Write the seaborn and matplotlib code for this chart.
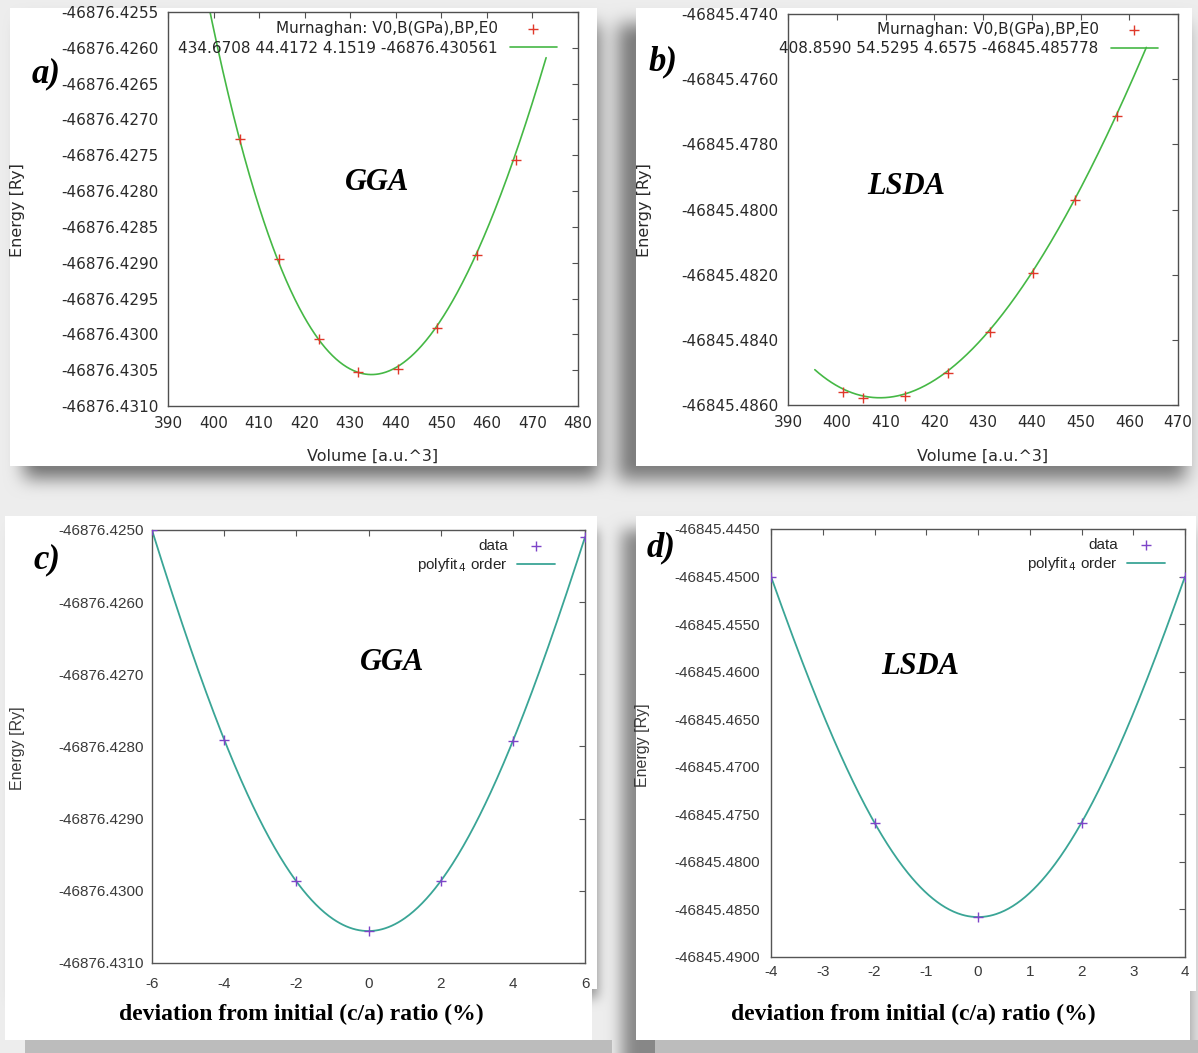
import numpy as np
import matplotlib
matplotlib.use("Agg")
import matplotlib.pyplot as plt
from matplotlib.patches import Rectangle
import seaborn as sns

# ---------------- data ----------------
# (a) GGA : energy vs. volume
gga_volume = [405.7, 414.4, 423.1, 431.7, 440.5, 449.0, 457.8, 466.3]
gga_energy = [-46876.42727, -46876.42895, -46876.43006, -46876.43053,
              -46876.43048, -46876.42991, -46876.42889, -46876.42757]
gga_V0, gga_B, gga_BP, gga_E0 = 434.6708, 44.4172, 4.1519, -46876.430561

# (b) LSDA : energy vs. volume
lsda_volume = [401.2, 405.4, 414.0, 422.9, 431.4, 440.2, 448.8, 457.5]
lsda_energy = [-46845.48559, -46845.48579, -46845.48572, -46845.48501,
               -46845.48375, -46845.48194, -46845.47971, -46845.47713]
lsda_V0, lsda_B, lsda_BP, lsda_E0 = 408.8590, 54.5295, 4.6575, -46845.485778

# (c) GGA : energy vs. c/a deviation
gga_dev = [-6, -4, -2, 0, 2, 4, 6]
gga_ca_energy = [-46876.42500, -46876.42791, -46876.42986, -46876.43056,
                 -46876.42987, -46876.42792, -46876.42510]

# (d) LSDA : energy vs. c/a deviation
lsda_dev = [-4, -2, 0, 2, 4]
lsda_ca_energy = [-46845.45000, -46845.47588, -46845.48580, -46845.47588,
                  -46845.45000]

# tick values
a_xticks = [390, 400, 410, 420, 430, 440, 450, 460, 470, 480]
a_yticks = [-46876.4310, -46876.4305, -46876.4300, -46876.4295, -46876.4290,
            -46876.4285, -46876.4280, -46876.4275, -46876.4270, -46876.4265,
            -46876.4260, -46876.4255]
b_xticks = [390, 400, 410, 420, 430, 440, 450, 460, 470]
b_yticks = [-46845.4860, -46845.4840, -46845.4820, -46845.4800, -46845.4780,
            -46845.4760, -46845.4740]
c_xticks = [-6, -4, -2, 0, 2, 4, 6]
c_yticks = [-46876.4310, -46876.4300, -46876.4290, -46876.4280, -46876.4270,
            -46876.4260, -46876.4250]
d_xticks = [-4, -3, -2, -1, 0, 1, 2, 3, 4]
d_yticks = [-46845.4900, -46845.4850, -46845.4800, -46845.4750, -46845.4700,
            -46845.4650, -46845.4600, -46845.4550, -46845.4500, -46845.4450]

RY_BOHR3_IN_GPA = 14710.507848


def murnaghan(V, V0, B, BP, E0):
    b = B / RY_BOHR3_IN_GPA
    return E0 + b * V / BP * ((V0 / V) ** BP / (BP - 1) + 1) - b * V0 / (BP - 1)


# ---------------- figure ----------------
W, H = 1198, 1053
sns.set_style("white")
plt.rcParams["font.family"] = ["DejaVu Sans"]
fig = plt.figure(figsize=(W / 100, H / 100), dpi=100)


def blur(a, r):
    for axis in (0, 1):
        a = np.moveaxis(a, axis, -1)
        p = np.pad(a, [(0, 0)] * (a.ndim - 1) + [(r + 1, r)], mode="edge")
        c = np.cumsum(p, axis=-1)
        a = (c[..., 2 * r + 1:] - c[..., :-(2 * r + 1)]) / (2 * r + 1)
        a = np.moveaxis(a, -1, axis)
    return a


# page backdrop: grey paper, soft drop shadows, white cards
shade = np.zeros((H, W))
for (x0, y0, x1, y1, r, s) in [
        (24, 24, 599, 478, 8, 0.50),
        (618, 24, 1186, 480, 8, 0.45),
        (14, 530, 598, 998, 5, 0.35),
        (622, 530, 1190, 1053, 7, 0.40)]:
    m = np.zeros((H, W))
    m[y0:y1, x0:x1] = 1.0
    for _ in range(3):
        m = blur(m, r)
    shade += s * m
page = np.clip(0.93 - shade, 0.5, 1.0)
page[1040:1053, 25:612] = 0.74
page[1040:1053, 655:1198] = 0.74
for (x0, y0, x1, y1) in [(10, 8, 597, 466), (636, 8, 1192, 466),
                         (5, 516, 597, 989), (636, 516, 1196, 991)]:
    page[y0:y1, x0:x1] = 1.0
fig.figimage(np.dstack([page] * 3), zorder=-10, origin="upper")


def px_axes(left, top, right, bottom):
    return fig.add_axes([left / W, 1 - bottom / H, (right - left) / W,
                         (bottom - top) / H])


def style_axes(ax, xticks, yticks, xlim, ylim, tick_size, tick_color,
               family, xpad, ypad, spine_color):
    ax.set_facecolor("none")
    ax.set_xlim(*xlim)
    ax.set_ylim(*ylim)
    ax.set_xticks(xticks)
    ax.set_yticks(yticks)
    ax.set_xticklabels([f"{v:g}" for v in xticks])
    ax.set_yticklabels([f"{v:.4f}" for v in yticks])
    ax.tick_params(direction="in", length=4.5, width=0.8, top=True,
                   right=True, labelsize=tick_size, labelcolor=tick_color,
                   color=spine_color)
    ax.tick_params(axis="x", pad=xpad)
    ax.tick_params(axis="y", pad=ypad)
    for lab in ax.get_xticklabels() + ax.get_yticklabels():
        lab.set_family(family)
    for sp in ax.spines.values():
        sp.set_visible(True)
        sp.set_color(spine_color)
        sp.set_linewidth(1.0)
    ax.set_xlabel("")
    ax.set_ylabel("")


def px_text(x, y, s, **kw):
    return fig.text(x / W, 1 - y / H, s, ha="center", va="center", **kw)


red = "#e0382a"
green = "#45b845"
purple = "#7d44c8"
teal = "#3aa596"

# ---- (a) ----
ax = px_axes(168, 12, 578, 406)
v = np.linspace(395.0, 473.0, 400)
fit_a = f"{gga_V0:.4f} {gga_B:.4f} {gga_BP:.4f} {gga_E0:.6f}"
sns.lineplot(x=v, y=murnaghan(v, gga_V0, gga_B, gga_BP, gga_E0), ax=ax,
             color=green, lw=1.2, label=fit_a, zorder=2)
sns.scatterplot(x=gga_volume, y=gga_energy, ax=ax, marker="+", s=45,
                color=red, linewidth=1.0, label="Murnaghan: V0,B(GPa),BP,E0",
                zorder=3)
style_axes(ax, a_xticks, a_yticks, (390, 480), (-46876.4310, -46876.4255),
           11, "#2a2a2a", "DejaVu Sans", 7, 7, "#505050")
h, l = ax.get_legend_handles_labels()
order = [l.index("Murnaghan: V0,B(GPa),BP,E0"), l.index(fit_a)]
ax.legend([h[i] for i in order], [l[i] for i in order], loc="upper right",
          bbox_to_anchor=(0.949, 0.977), markerfirst=False, frameon=False,
          fontsize=11, handlelength=3.1, handletextpad=0.8, labelspacing=0.3,
          borderpad=0, borderaxespad=0)

# ---- (b) ----
ax = px_axes(788, 14, 1178, 405)
v = np.linspace(395.5, 463.5, 400)
fit_b = f"{lsda_V0:.4f} {lsda_B:.4f} {lsda_BP:.4f} {lsda_E0:.6f}"
sns.lineplot(x=v, y=murnaghan(v, lsda_V0, lsda_B, lsda_BP, lsda_E0), ax=ax,
             color=green, lw=1.2, label=fit_b, zorder=2)
sns.scatterplot(x=lsda_volume, y=lsda_energy, ax=ax, marker="+", s=45,
                color=red, linewidth=1.0, label="Murnaghan: V0,B(GPa),BP,E0",
                zorder=3)
style_axes(ax, b_xticks, b_yticks, (390, 470), (-46845.4860, -46845.4740),
           11, "#2a2a2a", "DejaVu Sans", 7, 7, "#505050")
h, l = ax.get_legend_handles_labels()
order = [l.index("Murnaghan: V0,B(GPa),BP,E0"), l.index(fit_b)]
ax.legend([h[i] for i in order], [l[i] for i in order], loc="upper right",
          bbox_to_anchor=(0.949, 0.98), markerfirst=False, frameon=False,
          fontsize=11, handlelength=3.1, handletextpad=0.8, labelspacing=0.3,
          borderpad=0, borderaxespad=0)

# ---- (c) ----
poly_label = r"polyfit$_{\,4}$ order"
ax = px_axes(152, 530, 585, 963)
e_ref = gga_ca_energy[3]
coef = np.polyfit(gga_dev, np.array(gga_ca_energy) - e_ref, 4)
x = np.linspace(-6, 6, 400)
sns.lineplot(x=x, y=np.polyval(coef, x) + e_ref, ax=ax, color=teal, lw=1.3,
             label=poly_label, zorder=2)
sns.scatterplot(x=gga_dev, y=gga_ca_energy, ax=ax, marker="+", s=50,
                color=purple, linewidth=1.0, label="data", zorder=3)
style_axes(ax, c_xticks, c_yticks, (-6, 6), (-46876.4310, -46876.4250),
           11, "#3a3a3a", "Liberation Sans", 10, 6, "#555555")
h, l = ax.get_legend_handles_labels()
order = [l.index("data"), l.index(poly_label)]
ax.legend([h[i] for i in order], [l[i] for i in order], loc="upper right",
          bbox_to_anchor=(0.931, 0.98), markerfirst=False, frameon=False,
          prop={"family": "Liberation Sans", "size": 11}, handlelength=2.5,
          handletextpad=0.6, labelspacing=0.25, borderpad=0, borderaxespad=0)

# ---- (d) ----
ax = px_axes(771, 529, 1185, 957)
e_ref = lsda_ca_energy[2]
coef = np.polyfit(lsda_dev, np.array(lsda_ca_energy) - e_ref, 4)
x = np.linspace(-4, 4, 400)
sns.lineplot(x=x, y=np.polyval(coef, x) + e_ref, ax=ax, color=teal, lw=1.3,
             label=poly_label, zorder=2)
sns.scatterplot(x=lsda_dev, y=lsda_ca_energy, ax=ax, marker="+", s=50,
                color=purple, linewidth=1.0, label="data", zorder=3)
style_axes(ax, d_xticks, d_yticks, (-4, 4), (-46845.4900, -46845.4450),
           11, "#3a3a3a", "Liberation Sans", 6, 8, "#555555")
h, l = ax.get_legend_handles_labels()
order = [l.index("data"), l.index(poly_label)]
ax.legend([h[i] for i in order], [l[i] for i in order], loc="upper right",
          bbox_to_anchor=(0.952, 0.98), markerfirst=False, frameon=False,
          prop={"family": "Liberation Sans", "size": 11}, handlelength=2.5,
          handletextpad=0.6, labelspacing=0.25, borderpad=0, borderaxespad=0)

# ---- axis titles ----
for (xp, yp) in [(18, 210), (645, 210)]:
    px_text(xp, yp, "Energy [Ry]", rotation=90, fontsize=11.5,
            color="#2a2a2a", family="DejaVu Sans")
for (xp, yp) in [(18, 748), (643, 745)]:
    px_text(xp, yp, "Energy [Ry]", rotation=90, fontsize=11.5,
            color="#3a3a3a", family="Liberation Sans")
for (xp, yp) in [(373, 456), (983, 456)]:
    px_text(xp, yp, "Volume [a.u.^3]", fontsize=11.5, color="#2a2a2a",
            family="DejaVu Sans")

# white caption strips under the c/a panels
for (x0, y0, x1, y1) in [(5, 989, 592, 1040), (636, 991, 1190, 1040)]:
    fig.add_artist(Rectangle((x0 / W, 1 - y1 / H), (x1 - x0) / W,
                             (y1 - y0) / H, transform=fig.transFigure,
                             facecolor="white", edgecolor="none", zorder=5))
for xp in (301, 913):
    t = px_text(xp, 1014, "deviation from initial (c/a) ratio (%)",
                fontsize=17, fontweight="bold", family="Liberation Serif",
                color="black")
    t.set_zorder(6)

# panel tags and method names
serif_bi = dict(family="Liberation Serif", fontweight="bold", style="italic",
                color="black")
for (xp, yp, s) in [(46, 74, "a)"), (663, 62, "b)"), (47, 560, "c)"),
                    (661, 548, "d)")]:
    px_text(xp, yp, s, fontsize=25, **serif_bi)
for (xp, yp, s) in [(377, 183, "GGA"), (906, 186, "LSDA"),
                    (392, 662, "GGA"), (920, 667, "LSDA")]:
    px_text(xp, yp, s, fontsize=22, **serif_bi)

fig.savefig("out.png", dpi=100)
